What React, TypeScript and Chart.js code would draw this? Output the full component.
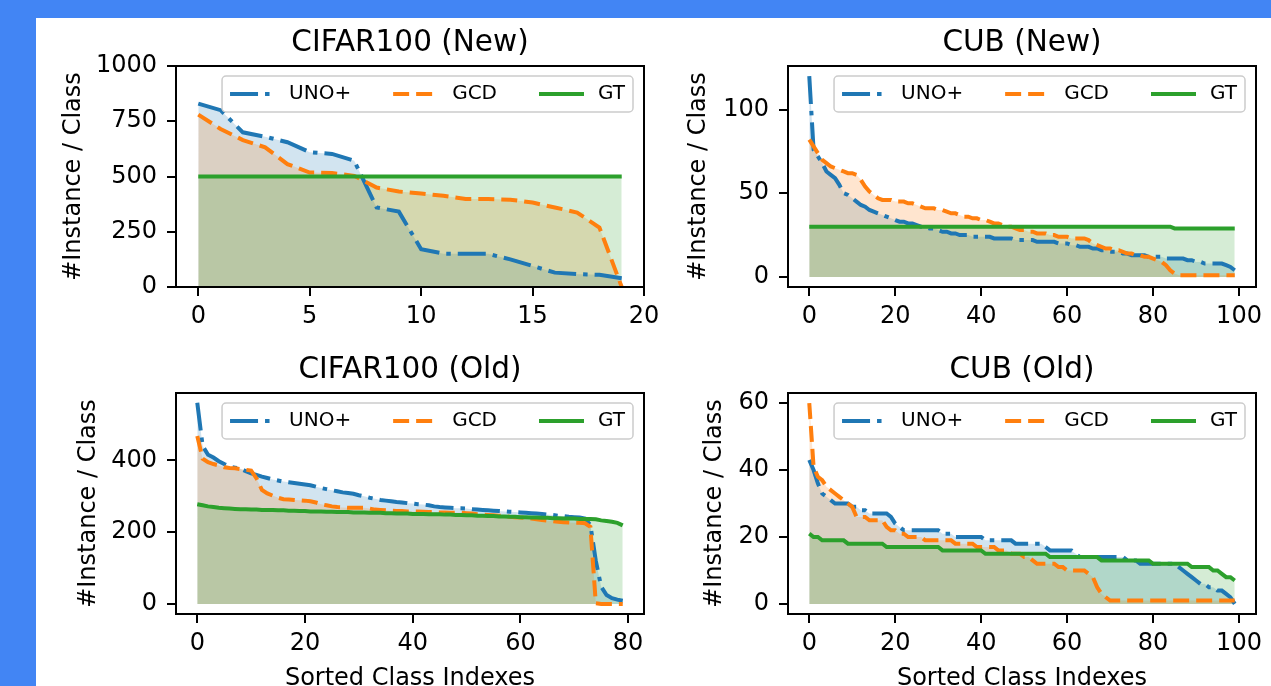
import React, { useEffect, useRef } from 'react';
import { Chart, registerables } from 'chart.js';

Chart.register(...registerables);

const FONT = '"DejaVu Sans", "Liberation Sans", sans-serif';
const BLUE = '#1f77b4';
const ORANGE = '#ff7f0e';
const GREEN = '#2ca02c';
const BLUE_FILL = 'rgba(31,119,180,0.2)';
const ORANGE_FILL = 'rgba(255,127,14,0.2)';
const GREEN_FILL = 'rgba(44,160,44,0.2)';

const SERIES_NAMES = ['UNO+', 'GCD', 'GT'];
const Y_LABEL = '#Instance / Class';
const X_LABEL = 'Sorted Class Indexes';

// ---------- CIFAR100 (New): 20 classes ----------
const cifarNewTitle = 'CIFAR100 (New)';
const cifarNewUno = [830, 800, 700, 680, 655, 610, 602, 571, 360, 341, 171, 151, 150, 150, 125, 95, 65, 58, 55, 40];
const cifarNewGcd = [780, 715, 665, 632, 556, 518, 516, 503, 450, 432, 423, 413, 398, 398, 395, 382, 360, 337, 269, 0];
const cifarNewGt = [500, 500, 500, 500, 500, 500, 500, 500, 500, 500, 500, 500, 500, 500, 500, 500, 500, 500, 500, 500];
const cifarNewXTicks = [0, 5, 10, 15, 20];
const cifarNewYTicks = [0, 250, 500, 750, 1000];

// ---------- CUB (New): 100 classes ----------
const cubNewTitle = 'CUB (New)';
const cubNewUno = [
  120, 76, 72, 68, 63, 61, 59, 55, 50, 49,
  47, 45, 43, 42, 40, 39, 38, 37, 36, 35,
  34, 33, 33, 32, 32, 31, 30, 30, 29, 29,
  28, 27, 27, 26, 26, 25, 25, 25, 24, 24,
  24, 24, 24, 23, 23, 23, 23, 23, 22, 22,
  22, 22, 22, 21, 21, 21, 21, 21, 20, 20,
  20, 19, 19, 18, 18, 18, 17, 17, 16, 16,
  15, 15, 15, 14, 14, 13, 13, 13, 13, 12,
  12, 12, 12, 11, 11, 11, 11, 11, 10, 10,
  9, 9, 8, 8, 8, 8, 8, 7, 6, 4,
];
const cubNewGcd = [
  82, 78, 74, 70, 68, 66, 65, 64, 63, 62,
  62, 61, 58, 54, 51, 49, 47, 46, 46, 46,
  45, 45, 45, 44, 44, 43, 42, 41, 41, 41,
  40, 40, 39, 38, 38, 37, 36, 36, 35, 35,
  34, 34, 33, 32, 32, 31, 30, 30, 29, 28,
  28, 27, 27, 26, 26, 26, 25, 25, 24, 24,
  24, 23, 23, 23, 23, 22, 20, 19, 18, 17,
  17, 16, 16, 15, 14, 14, 13, 13, 12, 12,
  11, 10, 9, 7, 4, 2, 1, 1, 1, 1,
  1, 1, 1, 1, 1, 1, 1, 1, 1, 1,
];
const cubNewGt = [
  30, 30, 30, 30, 30, 30, 30, 30, 30, 30,
  30, 30, 30, 30, 30, 30, 30, 30, 30, 30,
  30, 30, 30, 30, 30, 30, 30, 30, 30, 30,
  30, 30, 30, 30, 30, 30, 30, 30, 30, 30,
  30, 30, 30, 30, 30, 30, 30, 30, 30, 30,
  30, 30, 30, 30, 30, 30, 30, 30, 30, 30,
  30, 30, 30, 30, 30, 30, 30, 30, 30, 30,
  30, 30, 30, 30, 30, 30, 30, 30, 30, 30,
  30, 30, 30, 30, 30, 29, 29, 29, 29, 29,
  29, 29, 29, 29, 29, 29, 29, 29, 29, 29,
];
const cubXTicks = [0, 20, 40, 60, 80, 100];
const cubNewYTicks = [0, 50, 100];

// ---------- CIFAR100 (Old): 80 classes ----------
const cifarOldTitle = 'CIFAR100 (Old)';
const cifarOldUno = [
  561, 440, 416, 408, 398, 390, 383, 380, 377, 370,
  364, 360, 355, 351, 347, 344, 341, 339, 337, 335,
  333, 331, 327, 323, 320, 317, 314, 311, 309, 307,
  303, 300, 296, 293, 290, 288, 286, 284, 283, 281,
  280, 278, 277, 275, 272, 270, 269, 268, 267, 267,
  266, 264, 263, 262, 261, 260, 259, 258, 257, 256,
  255, 254, 253, 252, 251, 249, 248, 246, 245, 243,
  242, 241, 238, 220, 120, 48, 25, 16, 12, 9,
];
const cifarOldGcd = [
  468, 405, 395, 390, 386, 381, 379, 378, 376, 374,
  372, 350, 318, 308, 302, 296, 292, 291, 290, 289,
  288, 286, 283, 278, 275, 272, 270, 269, 268, 268,
  268, 268, 266, 263, 262, 261, 260, 259, 259, 258,
  258, 258, 257, 256, 256, 255, 255, 254, 254, 254,
  253, 252, 250, 249, 248, 247, 246, 245, 243, 242,
  241, 240, 238, 236, 234, 232, 231, 229, 228, 227,
  226, 226, 225, 215, 2, 0, 0, 0, 0, 0,
];
const cifarOldGt = [
  278, 275, 272, 270, 268, 267, 266, 265, 264, 264,
  263, 263, 262, 262, 262, 261, 261, 260, 260, 259,
  259, 258, 258, 258, 257, 257, 256, 256, 256, 255,
  255, 255, 254, 254, 254, 253, 253, 252, 252, 252,
  251, 251, 251, 250, 250, 250, 249, 249, 248, 248,
  247, 247, 246, 246, 245, 245, 244, 244, 243, 243,
  242, 242, 241, 241, 240, 240, 239, 239, 238, 238,
  238, 237, 237, 237, 236, 233, 231, 229, 226, 219,
];
const cifarOldXTicks = [0, 20, 40, 60, 80];
const cifarOldYTicks = [0, 200, 400];

// ---------- CUB (Old): 100 classes ----------
const cubOldTitle = 'CUB (Old)';
const cubOldUno = [
  43, 40, 36, 33, 32, 31, 30, 30, 30, 30,
  29, 29, 28, 28, 27, 27, 27, 27, 27, 26,
  24, 23, 22, 22, 22, 22, 22, 22, 22, 22,
  22, 21, 21, 21, 20, 20, 20, 20, 20, 20,
  20, 19, 19, 19, 19, 19, 19, 19, 18, 18,
  18, 18, 18, 18, 18, 17, 16, 16, 16, 16,
  16, 16, 15, 14, 14, 14, 14, 14, 14, 14,
  14, 14, 14, 14, 13, 13, 13, 12, 12, 12,
  12, 12, 12, 12, 12, 12, 11, 10, 9, 8,
  7, 6, 6, 5, 5, 4, 4, 3, 2, 0,
];
const cubOldGcd = [
  60, 41, 38, 37, 35, 34, 33, 32, 31, 30,
  29, 26, 26, 26, 25, 25, 25, 25, 23, 22,
  22, 21, 21, 20, 20, 20, 20, 19, 19, 19,
  19, 19, 19, 19, 18, 18, 18, 18, 18, 17,
  17, 17, 17, 17, 16, 16, 16, 15, 15, 15,
  14, 14, 13, 12, 12, 12, 12, 12, 11, 11,
  10, 10, 10, 10, 10, 9, 8, 5, 3, 2,
  1, 1, 1, 1, 1, 1, 1, 1, 1, 1,
  1, 1, 1, 1, 1, 1, 1, 1, 1, 1,
  1, 1, 1, 1, 1, 1, 1, 1, 1, 1,
];
const cubOldGt = [
  21, 20, 20, 19, 19, 19, 19, 19, 19, 18,
  18, 18, 18, 18, 18, 18, 18, 18, 17, 17,
  17, 17, 17, 17, 17, 17, 17, 17, 17, 17,
  17, 16, 16, 16, 16, 16, 16, 16, 16, 16,
  16, 15, 15, 15, 15, 15, 15, 15, 15, 15,
  15, 15, 15, 15, 15, 15, 14, 14, 14, 14,
  14, 14, 14, 14, 14, 14, 14, 14, 13, 13,
  13, 13, 13, 13, 13, 13, 13, 13, 13, 13,
  12, 12, 12, 12, 12, 12, 12, 12, 12, 11,
  11, 11, 11, 11, 10, 10, 9, 8, 8, 7,
];
const cubOldYTicks = [0, 20, 40, 60];

// ---------- panel layout ----------
type Panel = {
  title: string;
  uno: number[];
  gcd: number[];
  gt: number[];
  xTicks: number[];
  yTicks: number[];
  xMin: number;
  xMax: number;
  yMin: number;
  yMax: number;
  showXLabel: boolean;
  left: number;
  top: number;
  w: number;
  h: number;
  areaL: number;
  areaR: number;
  areaT: number;
  areaB: number;
  titleCenter: number;
  yLabelCenter: number;
};

const PANELS: Panel[] = [
  {
    title: cifarNewTitle, uno: cifarNewUno, gcd: cifarNewGcd, gt: cifarNewGt,
    xTicks: cifarNewXTicks, yTicks: cifarNewYTicks, xMin: -1, xMax: 20, yMin: 0, yMax: 1000,
    showXLabel: false, left: 36, top: 18, w: 624, h: 322,
    areaL: 140, areaR: 608, areaT: 48, areaB: 269, titleCenter: 25.5, yLabelCenter: 38,
  },
  {
    title: cubNewTitle, uno: cubNewUno, gcd: cubNewGcd, gt: cubNewGt,
    xTicks: cubXTicks, yTicks: cubNewYTicks, xMin: -4.95, xMax: 103.95, yMin: -6, yMax: 126,
    showXLabel: false, left: 660, top: 18, w: 611, h: 322,
    areaL: 128, areaR: 596, areaT: 48, areaB: 269, titleCenter: 25.5, yLabelCenter: 39,
  },
  {
    title: cifarOldTitle, uno: cifarOldUno, gcd: cifarOldGcd, gt: cifarOldGt,
    xTicks: cifarOldXTicks, yTicks: cifarOldYTicks, xMin: -3.95, xMax: 82.95, yMin: -28, yMax: 588,
    showXLabel: true, left: 36, top: 340, w: 624, h: 360,
    areaL: 140, areaR: 608, areaT: 53, areaB: 274, titleCenter: 30, yLabelCenter: 53,
  },
  {
    title: cubOldTitle, uno: cubOldUno, gcd: cubOldGcd, gt: cubOldGt,
    xTicks: cubXTicks, yTicks: cubOldYTicks, xMin: -4.95, xMax: 103.95, yMin: -3, yMax: 63,
    showXLabel: true, left: 660, top: 340, w: 611, h: 360,
    areaL: 128, areaR: 596, areaT: 53, areaB: 274, titleCenter: 30, yLabelCenter: 55,
  },
];

const TICK_FONT = 24;
const LABEL_FONT = 24;
const TITLE_FONT = 29.5;

const framePlugin = {
  id: 'frameAndLegend',
  afterDraw(chart: any) {
    const { ctx, chartArea: ca } = chart;
    ctx.save();
    ctx.setLineDash([]);
    ctx.strokeStyle = '#000';
    ctx.lineWidth = 2;
    ctx.strokeRect(ca.left, ca.top, ca.right - ca.left, ca.bottom - ca.top);

    ctx.font = `20px ${FONT}`;
    const items = chart.data.datasets.map((ds: any) => ({
      label: ds.label,
      color: ds.borderColor,
      dash: ds.borderDash || [],
    }));
    const pad = 8, hl = 45, tp = 14, cs = 42, h = 36;
    const widths = items.map((it: any) => ctx.measureText(it.label).width);
    const total = pad * 2 + widths.reduce((a: number, w: number) => a + hl + tp + w, 0) + cs * (items.length - 1);
    const right = ca.right - 11;
    const left = right - total;
    const top = ca.top + 10;
    ctx.beginPath();
    ctx.roundRect(left, top, total, h, 4);
    ctx.fillStyle = 'rgba(255,255,255,0.8)';
    ctx.fill();
    ctx.strokeStyle = '#cccccc';
    ctx.lineWidth = 1.5;
    ctx.stroke();
    let x = left + pad;
    const cy = top + h / 2;
    items.forEach((it: any, i: number) => {
      ctx.beginPath();
      ctx.setLineDash(it.dash);
      ctx.strokeStyle = it.color;
      ctx.lineWidth = 4;
      ctx.lineCap = 'butt';
      ctx.moveTo(x, cy);
      ctx.lineTo(x + hl, cy);
      ctx.stroke();
      ctx.setLineDash([]);
      ctx.fillStyle = '#000';
      ctx.textBaseline = 'middle';
      ctx.textAlign = 'left';
      ctx.fillText(it.label, x + hl + tp, cy);
      x += hl + tp + widths[i] + cs;
    });
    ctx.restore();
  },
};

function toPoints(arr: number[]) {
  return arr.map((v, i) => ({ x: i, y: v }));
}

function makeConfig(p: Panel): any {
  const titleLine = TITLE_FONT * 1.2;
  const titleTop = p.titleCenter - titleLine / 2;
  const titleBottom = p.areaT - titleTop - titleLine;
  const labelLine = LABEL_FONT * 1.2;
  const xLabelCenter = 679 - p.top;
  const common = { pointRadius: 0, pointHoverRadius: 0, borderWidth: 4, tension: 0, fill: 'origin', borderCapStyle: 'butt' };
  const tickCallback = (v: any) => String(v);
  return {
    type: 'line',
    data: {
      datasets: [
        { ...common, label: SERIES_NAMES[0], data: toPoints(p.uno), borderColor: BLUE, backgroundColor: BLUE_FILL, borderDash: [28, 7, 4.5, 7], order: 2 },
        { ...common, label: SERIES_NAMES[1], data: toPoints(p.gcd), borderColor: ORANGE, backgroundColor: ORANGE_FILL, borderDash: [16, 7], order: 1 },
        { ...common, label: SERIES_NAMES[2], data: toPoints(p.gt), borderColor: GREEN, backgroundColor: GREEN_FILL, borderDash: [], order: 0 },
      ],
    },
    options: {
      animation: false,
      responsive: false,
      maintainAspectRatio: false,
      devicePixelRatio: 1,
      events: [],
      layout: { padding: { left: 0, right: p.w - p.areaR, top: 0, bottom: 0 } },
      plugins: {
        legend: { display: false },
        tooltip: { enabled: false },
        filler: { drawTime: 'beforeDatasetsDraw' },
        title: {
          display: true,
          text: p.title,
          fullSize: false,
          color: '#000',
          font: { family: FONT, size: TITLE_FONT, weight: 'normal', lineHeight: 1.2 },
          padding: { top: titleTop, bottom: titleBottom },
        },
      },
      scales: {
        x: {
          type: 'linear',
          min: p.xMin,
          max: p.xMax,
          afterBuildTicks: (s: any) => { s.ticks = p.xTicks.map((v) => ({ value: v })); },
          afterFit: (s: any) => { s.height = p.h - p.areaB; s.paddingLeft = 0; s.paddingRight = 0; },
          border: { display: false },
          grid: { display: true, drawOnChartArea: false, drawTicks: true, tickLength: 9, tickWidth: 2, tickColor: '#000', lineWidth: 2, color: '#000' },
          ticks: { color: '#000', padding: 6, maxRotation: 0, autoSkip: false, font: { family: FONT, size: TICK_FONT }, callback: tickCallback },
          title: p.showXLabel
            ? { display: true, text: X_LABEL, color: '#000', font: { family: FONT, size: LABEL_FONT, lineHeight: 1.2 }, padding: { top: 0, bottom: p.h - xLabelCenter - labelLine / 2 } }
            : { display: false },
        },
        y: {
          type: 'linear',
          min: p.yMin,
          max: p.yMax,
          afterBuildTicks: (s: any) => { s.ticks = p.yTicks.map((v) => ({ value: v })); },
          afterFit: (s: any) => { s.width = p.areaL; s.paddingTop = 0; s.paddingBottom = 0; },
          border: { display: false },
          grid: { display: true, drawOnChartArea: false, drawTicks: true, tickLength: 9, tickWidth: 2, tickColor: '#000', lineWidth: 2, color: '#000' },
          ticks: { color: '#000', padding: 10, autoSkip: false, font: { family: FONT, size: TICK_FONT }, callback: tickCallback },
          title: { display: true, text: Y_LABEL, color: '#000', font: { family: FONT, size: LABEL_FONT, lineHeight: 1.2 }, padding: { top: p.yLabelCenter - labelLine / 2, bottom: 0 } },
        },
      },
    },
    plugins: [framePlugin],
  };
}

function PanelChart({ p }: { p: Panel }) {
  const ref = useRef<HTMLCanvasElement | null>(null);
  useEffect(() => {
    if (!ref.current) return;
    const chart = new Chart(ref.current, makeConfig(p));
    return () => chart.destroy();
  }, [p]);
  return (
    <canvas
      ref={ref}
      width={p.w}
      height={p.h}
      style={{ position: 'absolute', left: p.left, top: p.top, width: p.w, height: p.h }}
    />
  );
}

export default function App() {
  return (
    <div style={{ position: 'fixed', left: 0, top: 0, width: 1271, height: 686, overflow: 'hidden', background: '#4285f4' }}>
      <div style={{ position: 'absolute', left: 36, top: 18, right: 0, bottom: 0, background: '#ffffff' }} />
      {PANELS.map((p, i) => (
        <PanelChart key={i} p={p} />
      ))}
    </div>
  );
}
